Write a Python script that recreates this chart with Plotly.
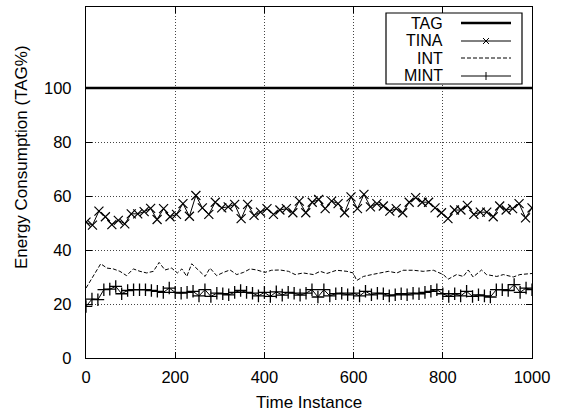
import numpy as np
import plotly.graph_objects as go

# Energy consumption of each scheme, as a percentage of TAG
tag_time = [0, 1000]
tag_vals = [100, 100]

tina_vals = [50.3, 49.2, 54.4, 52.3, 49.4, 51.0, 49.7, 53.4, 53.4, 54.2, 55.4, 51.3,
             55.3, 52.3, 53.2, 57.2, 52.5, 60.2, 55.6, 53.2, 57.7, 55.6, 56.0, 56.9,
             51.6, 56.9, 52.8, 54.0, 55.3, 53.2, 54.8, 55.3, 53.8, 58.1, 53.8, 57.7,
             58.7, 55.3, 58.1, 57.2, 53.8, 59.7, 55.3, 60.6, 56.0, 57.2, 56.3, 54.4,
             55.3, 53.8, 57.7, 59.4, 57.7, 57.7, 55.6, 53.8, 51.6, 54.8, 54.8, 56.5,
             53.2, 54.0, 54.0, 52.3, 56.3, 54.8, 55.3, 57.2, 51.9, 55.6]
tina_time = np.linspace(0, 1000, len(tina_vals))

int_time = [0, 33, 47, 61, 76, 91, 106, 121, 136, 151, 164, 177, 192, 205, 215, 226,
            237, 252, 267, 278, 293, 308, 323, 338, 353, 368, 383, 401, 416, 435, 454, 469,
            487, 510, 525, 540, 562, 585, 599, 607, 622, 641, 659, 678, 697, 711, 734,
            756, 779, 801, 812, 831, 846, 857, 868, 887, 898, 921, 936, 958, 973, 1000]
int_vals = [25.9, 34.9, 33.3, 33.0, 32.1, 30.5, 33.0, 32.1, 31.5, 32.1, 35.4, 32.6,
            33.3, 31.5, 33.0, 30.2, 34.9, 32.5, 30.2, 33.3, 30.5, 31.7, 32.6, 30.9,
            31.7, 33.0, 32.6, 31.7, 32.5, 32.6, 32.1, 30.9,
            31.5, 30.9, 32.1, 31.3, 32.5, 32.1, 31.5, 28.7, 30.2, 30.9, 31.5, 32.1,
            31.5, 32.5, 32.5, 32.1, 32.5, 30.9, 29.2, 30.9, 30.2, 32.6, 30.0, 32.6,
            30.9, 30.2, 30.9, 30.0, 30.9, 31.3]

mint_vals = [19.1, 21.8, 21.6, 25.3, 25.5, 26.5, 23.8, 25.0, 25.3, 25.3, 25.3, 25.0,
             24.7, 24.3, 25.9, 24.3, 24.0, 24.3, 24.7, 23.0, 25.3, 22.8, 24.0, 23.8,
             23.4, 24.3, 25.0, 24.3, 24.0, 23.0, 24.3, 22.8, 24.5, 23.3, 24.3, 24.0,
             23.3, 24.0, 25.3, 22.6,
             25.3, 23.0, 23.8, 24.0, 23.4, 24.0, 23.0, 24.7, 23.4, 24.0, 23.8, 23.0,
             23.4, 23.8, 23.4, 24.0, 23.8, 24.3, 24.7, 25.3, 23.8, 22.8, 23.8, 23.0,
             24.7, 22.8, 23.4, 23.0, 22.6, 25.3, 25.3, 25.0, 27.2, 24.3, 25.9, 25.3]
mint_time = np.linspace(0, 1000, len(mint_vals))

x_ticks = [0, 200, 400, 600, 800, 1000]
y_ticks = [0, 20, 40, 60, 80, 100]

FONT = "Liberation Sans, Arial, sans-serif"
W, H = 564, 413
L, R, T, B = 86, 32, 7, 55
PW, PH = W - L - R, H - T - B


def px(xp):
    return (xp - L) / PW


def py(yp):
    return (H - B - yp) / PH


fig = go.Figure()
fig.add_trace(go.Scatter(x=tag_time, y=tag_vals, mode="lines", name="TAG",
                         line=dict(color="black", width=2.6)))
fig.add_trace(go.Scatter(x=tina_time, y=tina_vals, mode="lines+markers", name="TINA",
                         line=dict(color="black", width=1),
                         marker=dict(symbol="x-thin", size=9, color="black",
                                     line=dict(color="black", width=1.2))))
fig.add_trace(go.Scatter(x=int_time, y=int_vals, mode="lines", name="INT",
                         line=dict(color="black", width=1, dash="4px,2px")))
fig.add_trace(go.Scatter(x=mint_time, y=mint_vals, mode="lines+markers", name="MINT",
                         line=dict(color="black", width=1),
                         marker=dict(symbol="cross-thin", size=9, color="black",
                                     line=dict(color="black", width=1.3))))

axis_common = dict(
    showline=True, linecolor="black", linewidth=1.3, mirror="ticks",
    ticks="inside", ticklen=6, tickcolor="black", tickwidth=1,
    showgrid=True, gridcolor="#444444", gridwidth=1, griddash="1px,2px",
    zeroline=False, automargin=False,
    tickfont=dict(family=FONT, size=16.5, color="black"),
)
fig.update_xaxes(range=[0, 1000], tickvals=x_ticks, ticklabelstandoff=4,
                 **axis_common)
fig.update_yaxes(range=[0, 130], tickvals=y_ticks, ticklabelstandoff=10,
                 **axis_common)

# axis labels placed as free text
annotations = [
    dict(text="Energy Consumption (TAG%)", textangle=-90,
         xref="paper", yref="paper", x=px(21), y=py(157),
         showarrow=False, xanchor="center", yanchor="middle",
         font=dict(family=FONT, size=17, color="black")),
    dict(text="Time Instance", xref="paper", yref="paper", x=0.5, y=py(402),
         showarrow=False, xanchor="center", yanchor="middle",
         font=dict(family=FONT, size=17, color="black")),
]

# key box in the top-right corner: label on the left, line sample on the right
shapes = [dict(type="rect", xref="paper", yref="paper",
               x0=px(386), x1=px(522), y0=py(84), y1=py(13),
               line=dict(color="black", width=1.2), fillcolor="white", layer="above")]
rows = [("TAG", 23, 2.6, None, None),
        ("TINA", 41, 1, None, "x"),
        ("INT", 58, 1, "4px,2px", None),
        ("MINT", 76, 1, None, "+")]
for label, yrow, lw, dash, mk in rows:
    annotations.append(dict(text=label, xref="paper", yref="paper",
                            x=px(444), y=py(yrow), xanchor="right", yanchor="middle",
                            showarrow=False, borderpad=0,
                            font=dict(family=FONT, size=16, color="black")))
    ln = dict(color="black", width=lw)
    if dash:
        ln["dash"] = dash
    shapes.append(dict(type="line", xref="paper", yref="paper",
                       x0=px(461), x1=px(511), y0=py(yrow), y1=py(yrow),
                       line=ln, layer="above"))
    if mk == "x":
        for a, b in [(-3, -3), (-3, 3)]:
            shapes.append(dict(type="line", xref="paper", yref="paper",
                               x0=px(486 + a), x1=px(486 - a),
                               y0=py(yrow + b), y1=py(yrow - b),
                               line=dict(color="black", width=1), layer="above"))
    elif mk == "+":
        shapes.append(dict(type="line", xref="paper", yref="paper",
                           x0=px(486), x1=px(486), y0=py(yrow - 4), y1=py(yrow + 4),
                           line=dict(color="black", width=1), layer="above"))

fig.update_layout(
    width=W, height=H,
    margin=dict(l=L, r=R, t=T, b=B),
    paper_bgcolor="white", plot_bgcolor="white",
    showlegend=False,
    annotations=annotations, shapes=shapes,
    font=dict(family=FONT, color="black"),
)

fig.write_html("out.html")
